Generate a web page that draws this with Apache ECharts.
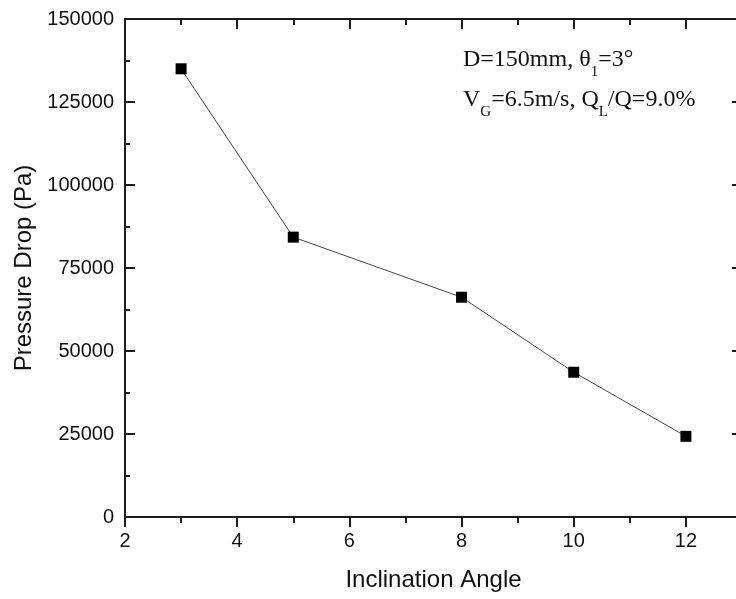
<!DOCTYPE html>
<html>
<head>
<meta charset="utf-8">
<script src="https://cdn.jsdelivr.net/npm/echarts@6/dist/echarts.min.js"></script>
<style>html,body{margin:0;padding:0;background:#fff;}#c{width:736px;height:599px;}</style>
</head>
<body>
<div id="c"></div>
<script>
const angles = [3, 5, 8, 10, 12];
const pressureDrop = [135000, 84300, 66200, 43600, 24300];
const xTickLabels = ['2', '4', '6', '8', '10', '12'];
const yTickLabels = ['0', '25000', '50000', '75000', '100000', '125000', '150000'];
const annotationLines = ['D=150mm, θ{sub|1}=3°', 'V{sub|G}=6.5m/s, Q{sub|L}/Q=9.0%'];

const chart = echarts.init(document.getElementById('c'), null, {renderer: 'canvas'});
const axisColor = '#1a1a1a';
const grid = {left: 125, top: 19, width: 617, height: 498, containLabel: false, outerBoundsMode: 'none'};
const xBase = {type: 'value', min: 2, max: 13, gridIndex: 0, splitLine: {show: false}};
const option = {
  animation: false,
  backgroundColor: '#ffffff',
  grid: grid,
  xAxis: [
    Object.assign({}, xBase, {
      position: 'bottom', interval: 1,
      name: 'Inclination Angle', nameLocation: 'middle', nameGap: 51,
      nameTextStyle: {fontFamily: 'Liberation Sans', fontSize: 24, color: '#111'},
      axisLine: {show: true, lineStyle: {color: axisColor, width: 2}},
      axisTick: {show: true, inside: false, length: 6, lineStyle: {color: axisColor, width: 2}},
      axisLabel: {
        fontFamily: 'Liberation Sans', fontSize: 20, color: '#111', margin: 14, showMaxLabel: false,
        formatter: function (v) { return xTickLabels.indexOf(String(v)) >= 0 ? String(v) : ''; }
      }
    }),
    Object.assign({}, xBase, {
      position: 'bottom', interval: 2,
      axisLine: {show: false},
      axisTick: {show: true, inside: false, length: 10, lineStyle: {color: axisColor, width: 2}},
      axisLabel: {show: false}
    }),
    Object.assign({}, xBase, {
      position: 'top', interval: 1,
      axisLine: {show: true, lineStyle: {color: axisColor, width: 2}},
      axisTick: {show: true, inside: true, length: 6, lineStyle: {color: axisColor, width: 2}},
      axisLabel: {show: false}
    }),
    Object.assign({}, xBase, {
      position: 'top', interval: 2,
      axisLine: {show: false},
      axisTick: {show: true, inside: true, length: 10, lineStyle: {color: axisColor, width: 2}},
      axisLabel: {show: false}
    })
  ],
  yAxis: [
    {
      type: 'value', min: 0, max: 150000, interval: 25000, position: 'left',
      name: 'Pressure Drop (Pa)', nameLocation: 'middle', nameGap: 83, nameRotate: 90,
      nameTextStyle: {fontFamily: 'Liberation Sans', fontSize: 24, color: '#111'},
      splitLine: {show: false},
      axisLine: {show: true, lineStyle: {color: axisColor, width: 2}},
      axisTick: {show: true, inside: true, length: 10, lineStyle: {color: axisColor, width: 2}},
      minorTick: {show: true, splitNumber: 2, length: 5, lineStyle: {color: axisColor, width: 2}},
      axisLabel: {
        fontFamily: 'Liberation Sans', fontSize: 20, color: '#111', margin: 11,
        formatter: function (v) { return yTickLabels.indexOf(String(v)) >= 0 ? String(v) : ''; }
      }
    },
    {
      type: 'value', min: 0, max: 150000, interval: 25000, position: 'right',
      splitLine: {show: false},
      axisLine: {show: true, lineStyle: {color: axisColor, width: 2}},
      axisTick: {show: true, inside: true, length: 10, lineStyle: {color: axisColor, width: 2}},
      minorTick: {show: true, splitNumber: 2, length: 5, lineStyle: {color: axisColor, width: 2}},
      axisLabel: {show: false}
    }
  ],
  graphic: [
    {
      type: 'text', left: 463, top: 40,
      style: {
        text: annotationLines[0] + '\n' + annotationLines[1],
        font: '24px "Liberation Serif"', fill: '#111', lineHeight: 40,
        rich: {
          sub: {fontSize: 15, fontFamily: 'Liberation Serif', verticalAlign: 'bottom', padding: [12, 0, 0, 0], fill: '#111'}
        }
      }
    }
  ],
  series: [
    {
      type: 'line', xAxisIndex: 0, yAxisIndex: 0,
      data: angles.map(function (a, i) { return [a, pressureDrop[i]]; }),
      symbol: 'rect', symbolSize: 11,
      itemStyle: {color: '#000'},
      lineStyle: {color: '#444', width: 1},
      z: 5
    }
  ]
};
chart.setOption(option);
</script>
</body>
</html>
